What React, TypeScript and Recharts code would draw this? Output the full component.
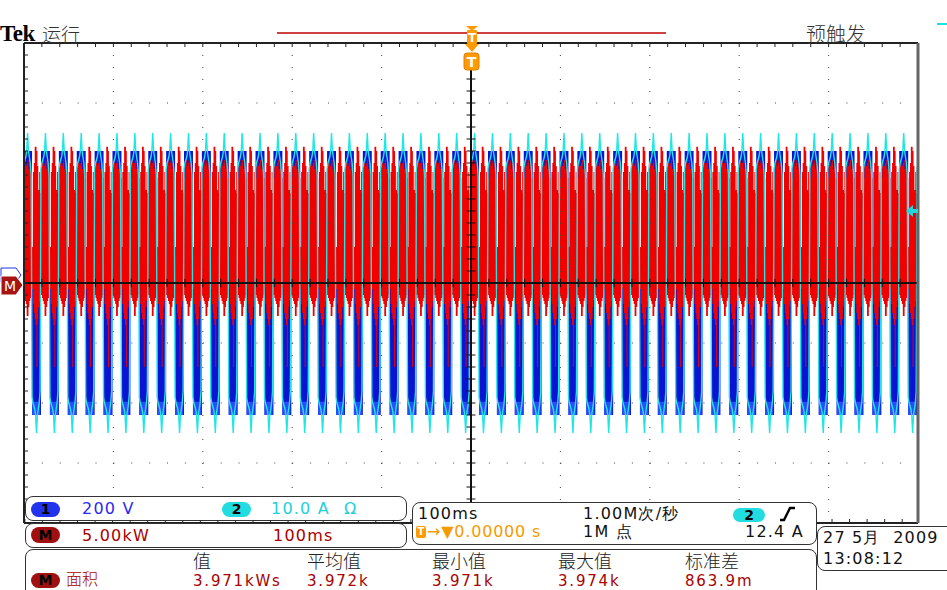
import React from "react";
import { ComposedChart, Area, Line, XAxis, YAxis, ReferenceLine } from "recharts";

// one 20 ms mains cycle as read off the screen, sampled every 1 ms
// phase 0 = start of the positive CH1 block; values in divisions
const phaseMs = [0, 1, 2, 3, 4, 5, 6, 7, 8, 9, 10, 11, 12, 13, 14, 15, 16, 17, 18, 19];
const ch1High = [2.2, 2.2, 2.2, 2.2, 2.2, 2.2, 2.2, 2.2, 2.2, 2.2, 0, 0, 0, 0, 0, 0, 0, 0, 0, 0];
const ch1Low = [0, 0, 0, 0, 0, 0, 0, 0, 0, 0, -2.2, -2.2, -2.2, -2.2, -2.2, -2.2, -2.2, -2.2, -2.2, -2.2];
const ch2Amps = [1.9, 2.0, 2.05, 2.1, 2.2, 2.5, 2.2, 2.1, 2.0, 1.8, -1.9, -2.0, -2.05, -2.1, -2.2, -2.5, -2.2, -2.1, -2.0, -1.8];
const mathHigh = [1.75, 2.0, 2.05, 1.95, 2.0, 2.05, 1.9, 2.0, 1.9, 1.75, 0.6, 1.85, 2.0, 2.27, 2.27, 2.2, 1.95, 1.55, 1.85, 1.5];
const mathLow = [-0.2, -0.25, -0.3, -0.35, -0.55, -0.55, -0.4, -0.3, -0.25, -0.2, -0.1, -0.35, -0.5, -0.6, -0.7, -1.4, -0.6, -0.4, -0.3, -0.2];

const PERIOD_MS = 20;
const FIRST_CYCLE_MS = -501;
const CYCLES = 51;

// graticule: 100 ms/div across 10 div, 8 vertical div
const majorX = [-400, -300, -200, -100, 100, 200, 300, 400];
const majorY = [-3, -2, -1, 1, 2, 3];
const minorX = Array.from({ length: 51 }, (_, i) => -500 + i * 20);
const minorY = Array.from({ length: 41 }, (_, i) => +(-4 + i * 0.2).toFixed(1));

const rows: any[] = [];
for (let k = 0; k < CYCLES; k++) {
  const start = FIRST_CYCLE_MS + k * PERIOD_MS;
  phaseMs.forEach((p, i) => {
    rows.push({
      t: start + p,
      ch1: [ch1Low[i], ch1High[i]],
      ch1Edge: ch1Low[i] < 0 ? [ch1Low[i], ch1Low[i] + 0.22] : null,
      ch2: ch2Amps[i],
      math: [mathLow[i], mathHigh[i]],
    });
  });
}

const sans = "'DejaVu Sans', sans-serif";
const cjk = "'Noto Sans CJK SC', sans-serif";
const darkRed = "#a80000";

const txt = (x: number, y: number, s: string, color: string, size = 16, font = sans, extra: any = {}) => (
  <div
    style={{
      position: "absolute",
      left: x,
      top: y,
      fontFamily: font,
      fontSize: size,
      lineHeight: 1,
      color,
      letterSpacing: font === sans ? 1.2 : 0,
      whiteSpace: "pre",
      ...extra,
    }}
  >
    {s}
  </div>
);

const pill = (x: number, y: number, w: number, h: number, bg: string, label: string) => (
  <div
    style={{
      position: "absolute",
      left: x,
      top: y,
      width: w,
      height: h,
      borderRadius: h / 2,
      background: bg,
      color: "#000",
      fontFamily: sans,
      fontSize: 14,
      fontWeight: "bold",
      lineHeight: h + "px",
      textAlign: "center",
    }}
  >
    {label}
  </div>
);

const panel = (x: number, y: number, w: number, h: number) => (
  <div
    style={{
      position: "absolute",
      left: x,
      top: y,
      width: w,
      height: h,
      border: "1px solid #333",
      borderRadius: 8,
      background: "#fff",
      boxSizing: "border-box",
    }}
  />
);

const valueStyle = { letterSpacing: 1.8 };

export default function App() {
  return (
    <div style={{ position: "absolute", left: 0, top: 0, width: 947, height: 590, background: "#fff", overflow: "hidden" }}>
      <ComposedChart width={947} height={590} data={rows} margin={{ top: 43, left: 24, right: 29, bottom: 67 }}>
        <XAxis
          dataKey="t"
          type="number"
          domain={[-500, 500]}
          allowDataOverflow
          orientation="top"
          mirror
          ticks={minorX}
          tickSize={4}
          tickFormatter={() => ""}
          stroke="#222"
          axisLine={{ stroke: "#222", strokeWidth: 2 }}
        />
        <XAxis
          xAxisId="bottom"
          dataKey="t"
          type="number"
          domain={[-500, 500]}
          orientation="bottom"
          mirror
          ticks={minorX}
          tickSize={4}
          tickFormatter={() => ""}
          stroke="#222"
          axisLine={{ stroke: "#222", strokeWidth: 2 }}
        />
        <YAxis
          type="number"
          domain={[-4, 4]}
          allowDataOverflow
          mirror
          ticks={minorY}
          tickSize={4}
          tickFormatter={() => ""}
          stroke="#222"
          axisLine={{ stroke: "#222", strokeWidth: 2 }}
        />
        <YAxis
          yAxisId="right"
          type="number"
          domain={[-4, 4]}
          orientation="right"
          mirror
          ticks={minorY}
          tickSize={4}
          tickFormatter={() => ""}
          stroke="#444"
          axisLine={{ stroke: "#666", strokeWidth: 3 }}
        />

        {majorX.map((v) => (
          <ReferenceLine key={"gx" + v} x={v} stroke="#444" strokeDasharray="1 11" />
        ))}
        {majorY.map((v) => (
          <ReferenceLine key={"gy" + v} y={v} stroke="#444" strokeDasharray="1 16.88" />
        ))}

        <Area dataKey="ch1" type="stepAfter" stroke="none" fill="#0a14d2" fillOpacity={1} isAnimationActive={false} />
        <Area dataKey="ch1Edge" type="stepAfter" stroke="none" fill="#2a4cff" fillOpacity={1} isAnimationActive={false} />
        <Line dataKey="ch2" type="linear" stroke="#20e6e6" strokeWidth={1.4} dot={false} isAnimationActive={false} />
        <Area dataKey="math" type="stepAfter" stroke="none" fill="#f20000" fillOpacity={1} isAnimationActive={false} />

        <ReferenceLine y={0} stroke="#111" strokeWidth={2} />
        <ReferenceLine segment={[{ x: 0, y: 3.55 }, { x: 0, y: -4 }]} stroke="#111" strokeWidth={2} />
        {minorX.map((v) => (
          <ReferenceLine key={"cx" + v} segment={[{ x: v, y: -0.07 }, { x: v, y: 0.07 }]} stroke="#111" />
        ))}
        {minorY.map((v) => (
          <ReferenceLine key={"cy" + v} segment={[{ x: -5, y: v }, { x: 5, y: v }]} stroke="#111" />
        ))}
      </ComposedChart>

      {/* header */}
      {txt(0, 22, "Tek", "#000", 23, "'Liberation Serif', serif", { fontWeight: "bold", letterSpacing: -0.5 })}
      {txt(42, 24, "运行", "#333", 19, cjk, { fontWeight: 300 })}
      {txt(806, 24, "预触发", "#333", 20, cjk, { fontWeight: 300 })}

      <svg width={947} height={590} style={{ position: "absolute", left: 0, top: 0 }}>
        <line x1={277} x2={666} y1={33} y2={33} stroke="#c00000" strokeWidth={1.5} />
        <line x1={937} x2={947} y1={24} y2={24} stroke="#20e0e0" strokeWidth={2} />
        {/* trigger position marks */}
        <polygon points="466,26 478,26 472,31" fill="#ff9a00" />
        <rect x={467} y={30} width={10} height={14} rx={1} fill="#ff9a00" />
        <text x={472} y={42} fontSize={12} fontFamily="DejaVu Sans" fontWeight="bold" fill="#fff" textAnchor="middle">T</text>
        <polygon points="465,44 479,44 472,52" fill="#ff9a00" />
        <rect x={464} y={53} width={15} height={17} rx={3} fill="#ff9a00" stroke="#e08000" />
        <text x={471.5} y={67} fontSize={14} fontFamily="DejaVu Sans" fontWeight="bold" fill="#fff" textAnchor="middle">T</text>
        {/* channel markers */}
        <path d="M1,268 L16,268 L21,275 L16,282 L1,282 Z" fill="#fff" stroke="#2233ee" />
        <path d="M1,276 L16,276 L23,285 L16,295 L1,295 Z" fill="#a81414" stroke="#fff" />
        <text x={10} y={291} fontSize={14} fontFamily="DejaVu Sans" fill="#fff" textAnchor="middle">M</text>
        <polygon points="906,211 913,205 913,209 918,209 918,213 913,213 913,217" fill="#20d8d8" />
      </svg>

      {/* readout panels */}
      {panel(25, 496, 382, 25)}
      {panel(25, 523, 382, 25)}
      {panel(412, 502, 405, 43)}
      {panel(817, 526, 140, 45)}
      {panel(25, 549, 792, 60)}

      {pill(31, 502, 29, 15, "#2233ee", "1")}
      {txt(82, 501, "200 V", "#2a2af0")}
      {pill(222, 502, 29, 15, "#22dde0", "2")}
      {txt(271, 501, "10.0 A", "#22d0d8")}
      {txt(344, 501, "Ω", "#22d0d8")}

      {pill(31, 527, 29, 16, "#a01010", "M")}
      {txt(82, 528, "5.00kW", darkRed)}
      {txt(273, 528, "100ms", darkRed)}

      {txt(418, 506, "100ms", "#111")}
      {txt(583, 506, "1.00M次/秒", "#111")}
      {pill(733, 508, 32, 14, "#22dde0", "2")}
      <svg width={20} height={16} style={{ position: "absolute", left: 778, top: 506 }}>
        <polyline points="2,14 6,14 12,2 17,2" fill="none" stroke="#000" strokeWidth={2.4} />
      </svg>
      <div style={{ position: "absolute", left: 416, top: 526, width: 10, height: 12, background: "#ff9a00", borderRadius: 2, color: "#fff", fontFamily: sans, fontSize: 10, fontWeight: "bold", lineHeight: "12px", textAlign: "center" }}>T</div>
      {txt(427, 524, "→▼0.00000 s", "#f59a00", 16, sans, { letterSpacing: 0.8 })}
      {txt(583, 524, "1M 点", "#111")}
      {txt(745, 524, "12.4 A", "#111")}

      {txt(823, 530, "27 5月  2009", "#111")}
      {txt(823, 551, "13:08:12", "#111")}

      {txt(193, 551, "值", "#222", 18, cjk, { fontWeight: 300 })}
      {txt(307, 551, "平均值", "#222", 18, cjk, { fontWeight: 300 })}
      {txt(432, 551, "最小值", "#222", 18, cjk, { fontWeight: 300 })}
      {txt(558, 551, "最大值", "#222", 18, cjk, { fontWeight: 300 })}
      {txt(685, 551, "标准差", "#222", 18, cjk, { fontWeight: 300 })}

      {pill(31, 573, 29, 15, "#a01010", "M")}
      {txt(66, 570, "面积", darkRed, 16, cjk, { fontWeight: 300 })}
      {txt(193, 574, "3.971kWs", darkRed, 15, sans, valueStyle)}
      {txt(307, 574, "3.972k", darkRed, 15, sans, valueStyle)}
      {txt(432, 574, "3.971k", darkRed, 15, sans, valueStyle)}
      {txt(558, 574, "3.974k", darkRed, 15, sans, valueStyle)}
      {txt(685, 574, "863.9m", darkRed, 15, sans, valueStyle)}
    </div>
  );
}
